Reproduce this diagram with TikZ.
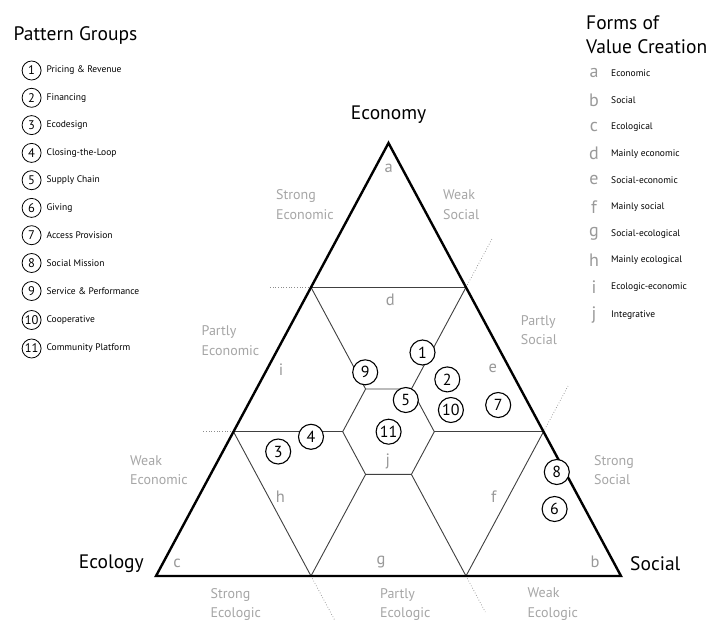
\documentclass[tikz,border=0pt]{standalone}
\usepackage{fontspec}
\setmainfont{PT Sans}
\begin{document}
\begin{tikzpicture}[x=1pt,y=-1pt,
  tri/.style={line width=2.4pt, line join=miter},
  inner/.style={line width=0.9pt, draw=black!75},
  ext/.style={line width=0.7pt, draw=black!45, dotted},
  num/.style={circle, draw=black, line width=1.1pt, fill=white, minimum size=25pt, inner sep=0pt, font=\fontsize{16}{16}\selectfont},
  lnum/.style={circle, draw=black, line width=0.8pt, fill=white, minimum size=19pt, inner sep=0pt, font=\fontsize{12.5}{12.5}\selectfont},
  reg/.style={text=black!40, font=\fontsize{16.5}{16.5}\selectfont, inner sep=0pt},
  edgelab/.style={text=black!35, font=\fontsize{14}{19.5}\selectfont, align=left, inner sep=0pt, anchor=west},
  title/.style={font=\fontsize{19.5}{22}\selectfont, inner sep=0pt},
  ltext/.style={font=\fontsize{9.5}{11}\selectfont, inner sep=0pt, anchor=west},
  lletter/.style={text=black!40, font=\fontsize{18}{18}\selectfont, inner sep=0pt}
]
\useasboundingbox (0,0) rectangle (707,621);
\fill[white] (0,0) rectangle (707,621);

% main corners
\coordinate (A) at (388.5,143);
\coordinate (C) at (156,576);
\coordinate (B) at (621,576);
\coordinate (L1) at (311,287.3);
\coordinate (R1) at (466,287.3);
\coordinate (L2) at (233.5,431.7);
\coordinate (R2) at (543.5,431.7);
\coordinate (B1) at (311,576);
\coordinate (B2) at (466,576);
% hexagon
\coordinate (HTL) at (365.6,389);
\coordinate (HTR) at (411.4,389);
\coordinate (HR) at (434.3,431.7);
\coordinate (HBR) at (411.4,474.4);
\coordinate (HBL) at (365.6,474.4);
\coordinate (HL) at (342.7,431.7);
% extension ends
\coordinate (E1) at (270,287.3);
\coordinate (E2) at (201.5,431.7);
\coordinate (E3) at (492.2,238.5);
\coordinate (E4) at (568,386);
\coordinate (E5) at (335.2,621);
\coordinate (E6) at (485.3,612);

% dotted extensions
\draw[ext] (L1) -- (E1);
\draw[ext] (L2) -- (E2);
\draw[ext] (R1) -- (E3);
\draw[ext] (R2) -- (E4);
\draw[ext] (B1) -- (E5);
\draw[ext] (B2) -- (E6);

% inner lines
\draw[inner] (L1) -- (R1);
\draw[inner] (L1) -- (HTL);
\draw[inner] (R1) -- (HTR);
\draw[inner] (HTL) -- (HTR) -- (HR) -- (HBR) -- (HBL) -- (HL) -- cycle;
\draw[inner] (L2) -- (HL);
\draw[inner] (R2) -- (HR);
\draw[inner] (L2) -- (B1);
\draw[inner] (R2) -- (B2);
\draw[inner] (HBL) -- (B1);
\draw[inner] (HBR) -- (B2);

% outer triangle
\draw[tri] (A) -- (B) -- (C) -- cycle;

% corner titles
\node[title] (teco) at (388.6,114.9) {Economy};
\node[title, anchor=east] (tecol) at (144,563.6) {Ecology};
\node[title, anchor=west] (tsoc) at (630,564) {Social};

% region letters
\node[reg] (ra) at (388.6,168) {a};
\node[reg] (rb) at (595,562) {b};
\node[reg] (rc) at (177,563) {c};
\node[reg] (rd) at (390.4,300) {d};
\node[reg] (re) at (492.8,368) {e};
\node[reg] (rf) at (493.7,497) {f};
\node[reg] (rg) at (381,562) {g};
\node[reg] (rh) at (280.4,497) {h};
\node[reg] (ri) at (281,369.5) {i};
\node[reg] (rj) at (387.7,461) {j};

% edge labels
\node[edgelab] (l1) at (276,204.5) {Strong\\Economic};
\node[edgelab] (l2) at (443,204.5) {Weak\\Social};
\node[edgelab] (l3) at (201.5,340.7) {Partly\\Economic};
\node[edgelab] (l4) at (520.7,330) {Partly\\Social};
\node[edgelab] (l5) at (130,470) {Weak\\Economic};
\node[edgelab] (l6) at (594,470) {Strong\\Social};
\node[edgelab] (l7) at (210.5,604.5) {Strong\\Ecologic};
\node[edgelab] (l8) at (380,604.5) {Partly\\Ecologic};
\node[edgelab] (l9) at (527.5,604) {Weak\\Ecologic};

% pattern circles in triangle
\node[num] (n1) at (422.5,352.5) {1};
\node[num] (n2) at (447.3,379.4) {2};
\node[num] (n3) at (278.2,451.5) {3};
\node[num] (n4) at (311,436.8) {4};
\node[num] (n5) at (405.8,400) {5};
\node[num] (n6) at (554.6,509) {6};
\node[num] (n7) at (498.2,405) {7};
\node[num] (n8) at (556.8,472) {8};
\node[num] (n9) at (365.2,372.3) {9};
\node[num] (n10) at (450.9,410) {10};
\node[num] (n11) at (388.6,431.7) {11};

% left legend
\node[title, anchor=west] (pg) at (13.5,35.6) {Pattern Groups};
\foreach \i/\y/\t in {1/70.5/Pricing \& Revenue, 2/97.8/Financing, 3/125.1/Ecodesign, 4/152.9/Closing-the-Loop, 5/180.2/Supply Chain, 6/207.9/Giving, 7/235.2/Access Provision, 8/263/Social Mission, 9/291/Service \& Performance, 10/320/Cooperative, 11/348.5/Community Platform}{
  \node[lnum] (lg\i) at (31.6,\y) {\i};
  \node[ltext] (lt\i) at (46.4,\y) {\t};
}

% right legend
\node[title, anchor=west] (fv1) at (586,23) {Forms of};
\node[title, anchor=west] (fv2) at (586,46.7) {Value Creation};
\foreach \k/\y/\t in {a/73.3/Economic, b/99.8/Social, c/126.7/Ecological, d/153.7/Mainly economic, e/180.2/Social-economic, f/207.1/Mainly social, g/233.7/Social-ecological, h/260.6/Mainly ecological, i/287.1/Ecologic-economic, j/314.9/Integrative}{
  \node[lletter] (fl\k) at (594,\y) {\k};
  \node[ltext] (ft\k) at (611,\y) {\t};
}
\end{tikzpicture}
\end{document}
